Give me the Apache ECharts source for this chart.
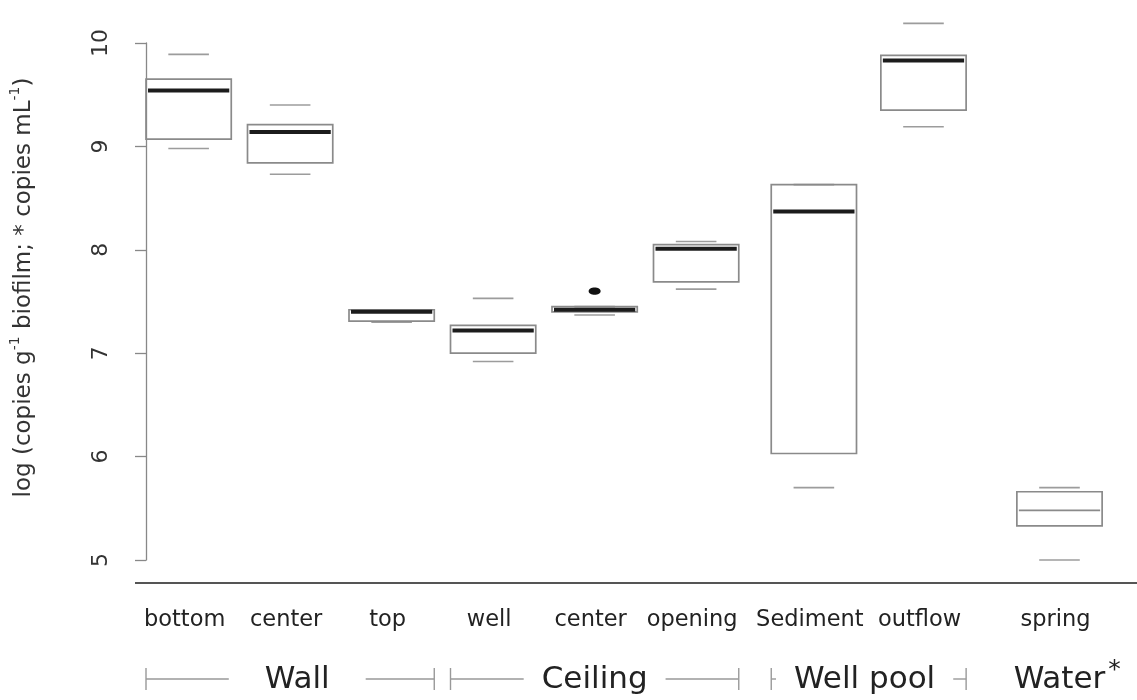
<!DOCTYPE html>
<html>
<head>
<meta charset="utf-8">
<title>Gene copies by sampling site</title>
<script src="https://cdn.jsdelivr.net/npm/echarts@6/dist/echarts.min.js"></script>
<style>
  html, body { margin: 0; padding: 0; background: #fff; }
  #chart { width: 1137px; height: 700px; }
</style>
</head>
<body>
<div id="chart"></div>
<script>
// Sampling sites (x labels) and where each box sits on the x scale
const categories = ['bottom', 'center', 'top', 'well', 'center', 'opening', 'Sediment', 'outflow', 'spring'];
const positions = [1, 2, 3, 4, 5, 6, 7.16, 8.24, 9.58];

// Five-number summaries, log copies
const lowerWhisker  = [8.98, 8.73, 7.30, 6.92, 7.37, 7.62, 5.70, 9.19, 5.00];
const lowerQuartile = [9.07, 8.84, 7.31, 7.00, 7.40, 7.69, 6.03, 9.35, 5.33];
const medians       = [9.54, 9.14, 7.40, 7.22, 7.42, 8.01, 8.37, 9.83, 5.48];
const upperQuartile = [9.65, 9.21, 7.42, 7.27, 7.45, 8.05, 8.63, 9.88, 5.66];
const upperWhisker  = [9.89, 9.40, 7.42, 7.53, 7.45, 8.08, 8.63, 10.19, 5.70];

// Outlying points: [site index, value]
const outliers = [[4, 7.60]];

// Site groups: label, first and last site index, label anchor on the x scale
const groupNames = ['Wall', 'Ceiling', 'Well pool', 'Water*'];
const groupFirst = [0, 3, 6, 8];
const groupLast  = [2, 5, 7, 8];
const groupAt    = [2.07, 5.0, 7.66, 9.58];

// Y axis ticks
const yTicks = [5, 6, 7, 8, 9, 10];

// ---- drawing ----
const FONT = '"DejaVu Sans", Verdana, sans-serif';
const BOX_WIDTH = 0.84;
const CAP_WIDTH = 0.40;
const BRACKET_GAP = [36, 18, 18, 0];
const BOX_STROKE = '#8a8a8a';
const CAP_STROKE = '#9c9c9c';
const TEXT = '#222';
const GRID = { left: 146, right: 0, top: 43, bottom: 140 };
const X_MIN = 0.58;
const X_MAX = X_MIN + (1137 - GRID.left - GRID.right) / 101.5;

const measureCtx = document.createElement('canvas').getContext('2d');
function textWidth(str, size) {
  measureCtx.font = size + 'px ' + FONT;
  return measureCtx.measureText(str).width;
}

// Sites of the starred (per mL) group get a plain median line
function isStarredSite(i) {
  return groupNames.some((g, k) => g.endsWith('*') && i >= groupFirst[k] && i <= groupLast[k]);
}

function renderBox(params, api) {
  const i = params.dataIndex;
  const p = api.value(0);
  const cx = api.coord([p, api.value(1)])[0];
  const yLo = api.coord([p, api.value(1)])[1];
  const yQ1 = api.coord([p, api.value(2)])[1];
  const yMed = api.coord([p, api.value(3)])[1];
  const yQ3 = api.coord([p, api.value(4)])[1];
  const yHi = api.coord([p, api.value(5)])[1];
  const half = api.size([BOX_WIDTH, 0])[0] / 2;
  const capHalf = api.size([CAP_WIDTH, 0])[0] / 2;
  const yAxisBottom = api.coord([p, yTicks[0]])[1];
  const thin = isStarredSite(i);
  return {
    type: 'group',
    children: [
      { type: 'line', shape: { x1: cx - capHalf, y1: yHi, x2: cx + capHalf, y2: yHi },
        style: { stroke: CAP_STROKE, lineWidth: 1.6 } },
      { type: 'line', shape: { x1: cx - capHalf, y1: yLo, x2: cx + capHalf, y2: yLo },
        style: { stroke: CAP_STROKE, lineWidth: 1.6 } },
      { type: 'rect', shape: { x: cx - half, y: yQ3, width: 2 * half, height: yQ1 - yQ3 },
        style: { fill: 'rgba(255,255,255,0)', stroke: BOX_STROKE, lineWidth: 1.7 } },
      { type: 'line', shape: { x1: cx - half + 2, y1: yMed, x2: cx + half - 2, y2: yMed },
        style: { stroke: thin ? BOX_STROKE : '#1c1c1c', lineWidth: thin ? 1.7 : 4 } },
      { type: 'text',
        style: { text: categories[i], x: cx - 4, y: yAxisBottom + 60, align: 'center', verticalAlign: 'middle',
                 font: '22.5px ' + FONT, fill: TEXT } }
    ]
  };
}

function renderOutlier(params, api) {
  const pt = api.coord([api.value(0), api.value(1)]);
  return { type: 'ellipse', shape: { cx: pt[0], cy: pt[1], rx: 6, ry: 3.6 }, style: { fill: '#111' } };
}

function renderGroup(params, api) {
  const g = params.dataIndex;
  const at = api.value(0);
  const base = api.coord([at, yTicks[0]]);
  const tx = base[0];
  const ty = base[1] + 120;
  const ly = ty - 1;
  const name = groupNames[g];
  const starred = name.endsWith('*');
  const plain = starred ? name.slice(0, -1) : name;
  const tw = textWidth(plain, 31);
  const children = [{
    type: 'text',
    style: { text: plain, x: tx, y: ty, align: 'center', verticalAlign: 'middle',
             font: '31px ' + FONT, fill: TEXT }
  }];
  if (starred) {
    children.push({
      type: 'text',
      style: { text: '*', x: tx + tw / 2 + 3, y: ty - 10, align: 'left', verticalAlign: 'middle',
               font: '25px ' + FONT, fill: TEXT }
    });
  }
  if (groupLast[g] > groupFirst[g]) {
    const half = api.size([BOX_WIDTH, 0])[0] / 2;
    const left = api.coord([positions[groupFirst[g]], yTicks[0]])[0] - half;
    const right = api.coord([positions[groupLast[g]], yTicks[0]])[0] + half;
    const gap = BRACKET_GAP[g];
    const st = { stroke: '#999', lineWidth: 1.4 };
    children.push(
      { type: 'line', shape: { x1: left, y1: ly, x2: tx - tw / 2 - gap, y2: ly }, style: st },
      { type: 'line', shape: { x1: tx + tw / 2 + gap, y1: ly, x2: right, y2: ly }, style: st },
      { type: 'line', shape: { x1: left, y1: ly - 11, x2: left, y2: ly + 11 }, style: st },
      { type: 'line', shape: { x1: right, y1: ly - 11, x2: right, y2: ly + 11 }, style: st }
    );
  }
  return { type: 'group', children };
}

const chart = echarts.init(document.getElementById('chart'), null, { renderer: 'canvas' });

const boxData = positions.map((p, i) => [p, lowerWhisker[i], lowerQuartile[i], medians[i], upperQuartile[i], upperWhisker[i]]);
const outlierData = outliers.map(o => [positions[o[0]], o[1]]);
const groupData = groupNames.map((g, k) => [groupAt[k], yTicks[0]]);

chart.setOption({
  animation: false,
  backgroundColor: '#fff',
  grid: GRID,
  xAxis: { type: 'value', min: X_MIN, max: X_MAX, show: false },
  yAxis: {
    type: 'value',
    min: yTicks[0],
    max: yTicks[yTicks.length - 1],
    interval: 1,
    splitLine: { show: false },
    axisLine: { show: true, lineStyle: { color: '#888', width: 1.3 } },
    axisTick: { show: true, length: 11, lineStyle: { color: '#888', width: 1.3 } },
    axisLabel: { rotate: 90, margin: 34, fontSize: 22, fontFamily: FONT, color: '#333' },
    name: '{t|log (copies g}{s|-1}{t| biofilm; * copies mL}{s|-1}{t|)}',
    nameLocation: 'middle',
    nameRotate: 90,
    nameGap: 110,
    nameTextStyle: {
      padding: [0, 0, 0, 28],
      rich: {
        t: { fontSize: 23, fontFamily: FONT, color: '#333', lineHeight: 28, verticalAlign: 'bottom' },
        s: { fontSize: 14, fontFamily: FONT, color: '#333', lineHeight: 28, verticalAlign: 'top' }
      }
    }
  },
  graphic: [{
    type: 'line',
    shape: { x1: 135, y1: 700 - GRID.bottom + 23, x2: 1137, y2: 700 - GRID.bottom + 23 },
    style: { stroke: '#555', lineWidth: 2 }
  }],
  series: [
    { type: 'custom', clip: false, renderItem: renderBox, data: boxData, encode: { x: 0, y: [1, 2, 3, 4, 5] } },
    { type: 'custom', clip: false, renderItem: renderOutlier, data: outlierData, encode: { x: 0, y: 1 } },
    { type: 'custom', clip: false, renderItem: renderGroup, data: groupData, encode: { x: 0, y: 1 } }
  ]
});
</script>
</body>
</html>
